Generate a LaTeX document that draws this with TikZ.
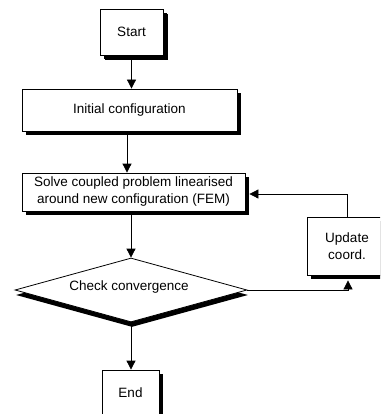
\documentclass[tikz,border=0pt]{standalone}
\usepackage{fontspec}
\setmainfont{Liberation Sans}
\usetikzlibrary{shapes.geometric,shadows,arrows.meta}
\begin{document}
\begin{tikzpicture}[x=1pt,y=-1pt,
  font=\fontsize{13.5}{17}\selectfont,
  boxshadow/.style={drop shadow={shadow xshift=4pt,shadow yshift=-4pt,fill=black,opacity=1}},
  stepbox/.style={draw,line width=0.8pt,fill=white,inner sep=1pt,align=center,boxshadow},
  decbox/.style={draw,line width=0.8pt,fill=white,diamond,aspect=3.6,inner sep=0pt,
    minimum width=232pt,minimum height=64pt,
    drop shadow={shadow xshift=1pt,shadow yshift=-5pt,fill=black,opacity=1}},
  arr/.style={line width=0.8pt,-{Triangle[length=9pt,width=9pt]}}]
\useasboundingbox (0,0) rectangle (380,414);
\clip (0,0) rectangle (380,414);
\fill[white] (0,0) rectangle (380,414);

\node[stepbox,minimum width=63pt,minimum height=46pt,
  drop shadow={shadow xshift=5pt,shadow yshift=-5pt,fill=black,opacity=1}] (start) at (131.5,32) {Start};
\node[stepbox,minimum width=215pt,minimum height=42pt] (init) at (129.5,110) {Initial configuration};
\node[stepbox,minimum width=223pt,minimum height=38pt] (solve) at (133.5,192)
  {Solve coupled problem linearised\\around new configuration (FEM)};
\node[stepbox,minimum width=80pt,minimum height=58pt] (upd) at (347,246) {Update\\coord.};
\node[decbox] (chk) at (131,290) {};
\node (chktext) at (129,287) {Check convergence};
\node[stepbox,minimum width=57pt,minimum height=46pt] (end) at (130.5,393) {End};

\draw[arr] (start.south) -- (start.south |- init.north);
\draw[arr] ([xshift=-2.5pt]init.south) -- ([xshift=-2.5pt]init.south |- solve.north);
\draw[arr] (solve.south -| chk.north) -- (chk.north);
\draw[arr] (chk.south) -- (chk.south |- end.north);
\draw[arr] (chk.east) -| ([xshift=1pt,yshift=-5pt]upd.south);
\draw[arr] (upd.north) |- ([xshift=4pt,yshift=-2pt]solve.east);
\end{tikzpicture}
\end{document}
